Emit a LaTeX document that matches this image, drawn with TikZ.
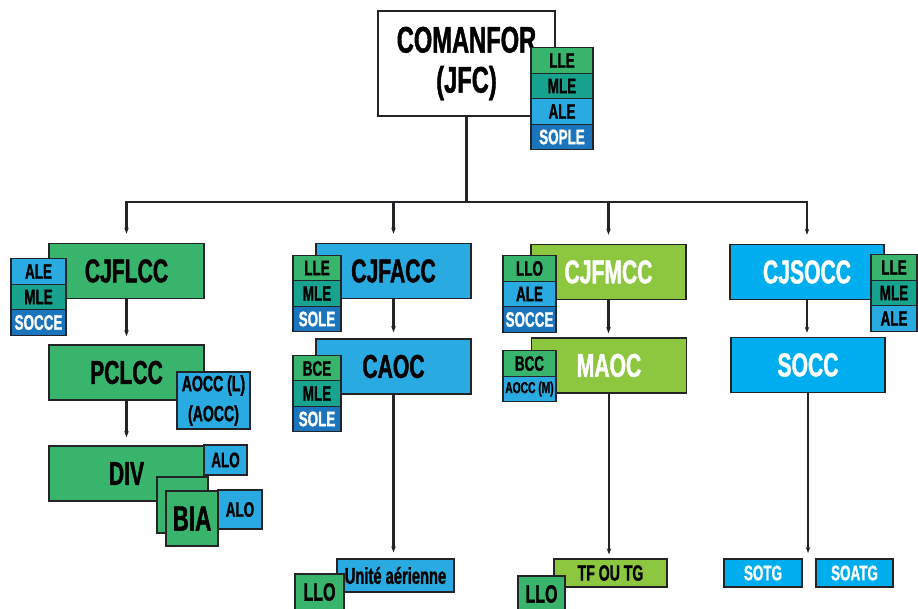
\documentclass[tikz,border=0pt]{standalone}
\usepackage{fontspec}
\setmainfont{Liberation Sans}[FakeStretch=0.64,FakeBold=1.2]
\usepackage{tikz}
\usetikzlibrary{arrows.meta}
\definecolor{edge}{RGB}{35,35,40}
\definecolor{grn}{RGB}{57,180,108}
\definecolor{teal}{RGB}{24,163,143}
\definecolor{sky}{RGB}{41,171,226}
\definecolor{navy}{RGB}{27,117,188}
\definecolor{lime}{RGB}{141,198,63}
\definecolor{cyan}{RGB}{0,174,239}
\newcommand\topfont{\fontsize{37}{40}\selectfont\bfseries}
\newcommand\unitfont{\fontsize{33}{34}\selectfont\bfseries}
\newcommand\tagfont{\fontsize{21}{22}\selectfont\bfseries}

\begin{document}
\begin{tikzpicture}[x=1pt,y=-1pt,
  unit/.style={draw=edge,line width=1.6pt,minimum width=155pt,minimum height=55pt,
               inner sep=0pt,font=\unitfont},
  tag/.style={draw=edge,line width=1.3pt,inner sep=0pt,minimum height=25.5pt,font=\tagfont},
  arr/.style={-{Stealth[length=6pt,width=4.5pt]},line width=2.2pt,color=edge},
  link/.style={line width=2.2pt,color=edge}]
  \useasboundingbox (0,0) rectangle (918,608);
  \clip (0,0) rectangle (918,608);

  % command level
  \node[draw=edge,line width=1.6pt,fill=white,minimum width=177pt,minimum height=105pt,
        align=center,font=\topfont] (jfc) at (466.5,63.5) {COMANFOR\\(JFC)};
  \node[tag,fill=grn,minimum width=62pt]  (jfclle) at (562,60.5)  {LLE};
  \node[tag,fill=teal,minimum width=62pt] (jfcmle) at (562,86)    {MLE};
  \node[tag,fill=sky,minimum width=62pt]  (jfcale) at (562,111.5) {ALE};
  \node[tag,fill=navy,text=white,minimum width=62pt] (jfcsople) at (562,137) {SOPLE};

  % land
  \node[unit,fill=grn] (cjflcc) at (126.5,271) {CJFLCC};
  \node[tag,fill=sky,minimum width=55pt]  (lale)   at (38.5,271.5) {ALE};
  \node[tag,fill=teal,minimum width=55pt] (lmle)   at (38.5,297)   {MLE};
  \node[tag,fill=navy,text=white,minimum width=55pt] (lsocce) at (38.5,322.5) {SOCCE};
  \node[unit,fill=grn] (pclcc) at (126.5,372.5) {PCLCC};
  \node[tag,fill=sky,minimum width=73pt,minimum height=57pt,align=center,
        font=\fontsize{22}{30}\selectfont\bfseries] (aoccl) at (213.5,400.5) {AOCC (L)\\(AOCC)};
  \node[unit,fill=grn] (div) at (126.5,473.5) {DIV};
  \node[tag,fill=sky,minimum width=43pt,minimum height=30pt] (divalo) at (225.5,460) {ALO};
  \node[tag,fill=grn,line width=1.6pt,minimum width=51pt,minimum height=56pt] (biaback) at (182.5,505) {};
  \node[tag,fill=grn,line width=1.6pt,minimum width=52pt,minimum height=55pt,
        font=\fontsize{35}{36}\selectfont\bfseries] (bia) at (192,518.5) {BIA};
  \node[tag,fill=sky,minimum width=44pt,minimum height=39pt] (biaalo) at (240,509.5) {ALO};

  % air
  \node[unit,fill=sky] (cjfacc) at (393.5,271) {CJFACC};
  \node[tag,fill=grn,minimum width=48pt]  (alle)  at (317,268)   {LLE};
  \node[tag,fill=teal,minimum width=48pt] (amle)  at (317,293.5) {MLE};
  \node[tag,fill=navy,text=white,minimum width=48pt] (asole) at (317,319) {SOLE};
  \node[unit,fill=sky] (caoc) at (393.5,366.5) {CAOC};
  \node[tag,fill=grn,minimum width=48pt]  (cbce)  at (317,368.5) {BCE};
  \node[tag,fill=teal,minimum width=48pt] (cmle)  at (317,393.5) {MLE};
  \node[tag,fill=navy,text=white,minimum width=48pt] (csole) at (317,419) {SOLE};
  \node[tag,fill=sky,minimum width=117pt,minimum height=33pt,
        font=\fontsize{23}{25}\selectfont\bfseries] (air) at (395.5,575.5) {Unité aérienne};
  \node[tag,fill=grn,line width=1.6pt,minimum width=49pt,minimum height=36pt,
        font=\fontsize{25}{26}\selectfont\bfseries] (airllo) at (319.5,592) {LLO};

  % maritime
  \node[unit,fill=lime,text=white] (cjfmcc) at (608.5,272) {CJFMCC};
  \node[tag,fill=grn,minimum width=53pt]  (mllo)   at (529.5,268.5) {LLO};
  \node[tag,fill=sky,minimum width=53pt]  (male)   at (529.5,294)   {ALE};
  \node[tag,fill=navy,text=white,minimum width=53pt] (msocce) at (529.5,319.5) {SOCCE};
  \node[unit,fill=lime,text=white] (maoc) at (609,365.5) {MAOC};
  \node[tag,fill=grn,minimum width=53pt] (mbcc)  at (529.5,363.5) {BCC};
  \node[tag,fill=sky,minimum width=53pt,font=\fontsize{16}{17}\selectfont\bfseries] (maoccm) at (529.5,389) {AOCC (M)};
  \node[tag,fill=lime,minimum width=113pt,minimum height=28pt,
        font=\fontsize{22}{23}\selectfont\bfseries] (tftg) at (610.5,573) {TF OU TG};
  \node[tag,fill=grn,line width=1.6pt,minimum width=47pt,minimum height=36pt,
        font=\fontsize{25}{26}\selectfont\bfseries] (tfllo) at (541.5,594) {LLO};

  % special operations
  \node[unit,fill=cyan,text=white,minimum width=154pt] (cjsocc) at (807,272) {CJSOCC};
  \node[tag,fill=grn,minimum width=46pt]  (slle) at (894,267.5) {LLE};
  \node[tag,fill=teal,minimum width=46pt] (smle) at (894,293)   {MLE};
  \node[tag,fill=sky,minimum width=46pt]  (sale) at (894,318.5) {ALE};
  \node[unit,fill=cyan,text=white,minimum width=154pt] (socc) at (808,365) {SOCC};
  \node[tag,fill=cyan,text=white,minimum width=78pt,minimum height=28pt] (sotg)  at (763,573)   {SOTG};
  \node[tag,fill=cyan,text=white,minimum width=77pt,minimum height=28pt] (soatg) at (854.5,573) {SOATG};

  % connectors
  \coordinate (bus) at (466.5,202);
  \coordinate (socctip) at (808,553);
  \draw[link] (jfc) -- (bus);
  \draw[arr,shorten >=9pt] (bus) -| (cjflcc.north);
  \draw[arr,shorten >=9pt] (bus) -| (cjfacc.north);
  \draw[arr,shorten >=9pt] (bus) -| (cjfmcc.north);
  \draw[arr,shorten >=9pt] (bus) -| (cjsocc.north);
  \draw[arr,shorten >=8pt] (cjflcc) -- (pclcc);
  \draw[arr,shorten >=8pt] (pclcc) -- (div);
  \draw[arr,shorten >=6pt] (cjfacc) -- (caoc);
  \draw[arr,shorten >=6pt] (caoc.south) -- (caoc.south |- air.north);
  \draw[arr,shorten >=4pt] (cjfmcc.south) -- (cjfmcc.south |- maoc.north);
  \draw[arr,shorten >=4pt] (maoc.south) -- (maoc.south |- tftg.north);
  \draw[arr,shorten >=4pt] (cjsocc.south) -- (cjsocc.south |- socc.north);
  \draw[arr] (socc) -- (socctip);
\end{tikzpicture}
\end{document}
